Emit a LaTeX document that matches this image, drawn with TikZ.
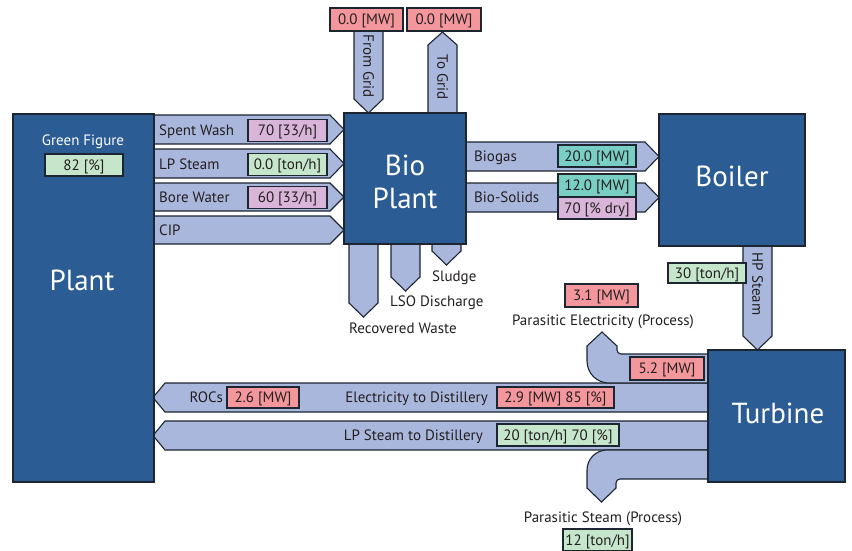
\documentclass[tikz,border=0pt]{standalone}
\usepackage{fontspec}
\setmainfont{PT Sans}
\definecolor{boxblue}{HTML}{2B5C94}
\definecolor{flowc}{HTML}{AAB7DD}
\definecolor{edgec}{HTML}{1C2530}
\definecolor{txtc}{HTML}{231F20}
\definecolor{pinkc}{HTML}{F4979C}
\definecolor{greenc}{HTML}{C6E6CC}
\definecolor{purplec}{HTML}{D9B6D9}
\definecolor{tealc}{HTML}{7ACFC5}
\newcommand\smallfnt{\fontsize{15}{17}\selectfont}
\newcommand\bigfnt{\fontsize{29}{33}\selectfont}
% right-pointing block arrow: x start, x tip, y top, y bottom
\newcommand\flowR[4]{\draw[flow] (#1,#3) -- ({#2-14},#3) -- (#2,{(#3+#4)/2}) -- ({#2-14},#4) -- (#1,#4) -- cycle;}
% left-pointing: x tip, x end, y top, y bottom
\newcommand\flowL[4]{\draw[flow] (#2,#3) -- ({#1+12},#3) -- (#1,{(#3+#4)/2}) -- ({#1+12},#4) -- (#2,#4) -- cycle;}
% down-pointing: x left, x right, y start, y tip
\newcommand\flowD[4]{\draw[flow] (#1,#3) -- (#1,{#4-14}) -- ({(#1+#2)/2},#4) -- (#2,{#4-14}) -- (#2,#3) -- cycle;}
% up-pointing: x left, x right, y tip, y start
\newcommand\flowU[4]{\draw[flow] (#1,#4) -- (#1,{#3+13}) -- ({(#1+#2)/2},#3) -- (#2,{#3+13}) -- (#2,#4) -- cycle;}
\begin{document}
\begin{tikzpicture}[x=1pt,y=-1pt,
  flow/.style={fill=flowc,draw=edgec,line width=1.1pt,line join=miter},
  unit/.style={rectangle,fill=boxblue,draw=edgec,line width=1.2pt,inner sep=0pt},
  bigtxt/.style={text=white,font=\bigfnt,inner sep=0pt},
  val/.style={rectangle,draw=edgec,line width=1.3pt,inner sep=0pt,minimum height=22pt,text=txtc,font=\smallfnt,text height=10.5pt,text depth=0pt},
  pinkv/.style={val,fill=pinkc},
  greenv/.style={val,fill=greenc},
  purplev/.style={val,fill=purplec},
  tealv/.style={val,fill=tealc},
  lbl/.style={text=txtc,font=\smallfnt,inner sep=0pt,text height=10.5pt,text depth=0pt},
]
\useasboundingbox (0,0) rectangle (852,550);

% ---- flows ----
% inputs to Bio Plant
\flowR{154}{344}{115}{144}
\flowR{154}{344}{149}{178}
\flowR{154}{344}{183}{211}
\flowR{154}{344}{216}{244}
% Bio Plant to Boiler
\flowR{466}{659}{142}{171}
\flowR{466}{659}{183}{212}
% grid
\flowD{354}{383}{31}{113}
\flowU{428}{457}{32}{113}
% bio plant outputs
\flowD{349}{378}{244}{317}
\flowD{391}{420}{244}{291}
\flowD{432}{461}{244}{265}
% HP steam
\flowD{743}{772}{246}{350}
% distillery flows
\flowL{153}{708}{383}{412}
\flowL{153}{708}{421}{450}
% parasitic electricity
\draw[flow] (708,354) -- (621,354) .. controls (618.8,354) and (617,352.2) .. (617,350)
  -- (617,346) -- (602,332) -- (587,346) -- (587,361)
  .. controls (587,373.2) and (596.8,383) .. (609,383) -- (708,383) -- cycle;
% parasitic steam
\draw[flow] (708,450) -- (607,450) .. controls (596,450) and (587,459) .. (587,470)
  -- (587,488) -- (601.5,502) -- (616,488) -- (616,483)
  .. controls (616,480.8) and (617.8,479) .. (620,479) -- (708,479) -- cycle;

% ---- units ----
\node[unit,minimum width=141pt,minimum height=368pt] (plant) at (83.5,298) {};
\node[unit,minimum width=122pt,minimum height=131pt] (bio) at (405,178.5) {};
\node[unit,minimum width=146pt,minimum height=132pt] (boiler) at (732,180) {};
\node[unit,minimum width=137pt,minimum height=132pt] (turbine) at (776.5,416) {};
\node[bigtxt] (plantlbl) at (82,280) {Plant};
\node[bigtxt] (biolbl1) at (405,165) {Bio};
\node[bigtxt] (biolbl2) at (405,198) {Plant};
\node[bigtxt] (boilerlbl) at (732,176) {Boiler};
\node[bigtxt] (turbinelbl) at (778,413) {Turbine};

% ---- plant ----
\node[lbl,text=white] (green) at (83,140) {Green Figure};
\node[greenv,minimum width=78pt] (greenval) at (84,165) {82 [\%]};

% ---- input labels ----
\node[lbl,anchor=west] (sw) at (159,130.5) {Spent Wash};
\node[lbl,anchor=west] (lps) at (159,164) {LP Steam};
\node[lbl,anchor=west] (bw) at (159,197.5) {Bore Water};
\node[lbl,anchor=west] (cip) at (159,230.5) {CIP};
\node[purplev,minimum width=79pt] (swv) at (287.5,130.5) {70 [33/h]};
\node[greenv,minimum width=79pt] (lpsv) at (287.5,164.5) {0.0 [ton/h]};
\node[purplev,minimum width=79pt] (bwv) at (287.5,197.5) {60 [33/h]};

% ---- grid ----
\node[pinkv,minimum width=73pt,minimum height=23pt] (fromgridv) at (366.5,19.5) {0.0 [MW]};
\node[pinkv,minimum width=74pt,minimum height=23pt] (togridv) at (444,19.5) {0.0 [MW]};
\node[lbl,rotate=-90] (fromgrid) at (368.5,66) {From Grid};
\node[lbl,rotate=-90] (togrid) at (442.5,77) {To Grid};

% ---- bio plant outputs ----
\node[lbl,anchor=west] (sludge) at (432,276) {Sludge};
\node[lbl,anchor=west] (lso) at (390,301) {LSO Discharge};
\node[lbl,anchor=west] (rw) at (349,328) {Recovered Waste};

% ---- to boiler ----
\node[lbl,anchor=west] (biogas) at (474,156.5) {Biogas};
\node[lbl,anchor=west] (biosol) at (474,197.5) {Bio-Solids};
\node[tealv,minimum width=78pt] (biogasv) at (597,156) {20.0 [MW]};
\node[tealv,minimum width=78pt,minimum height=23pt] (biosolv) at (597,185.5) {12.0 [MW]};
\node[purplev,minimum width=78pt] (biosoldry) at (597,208) {70 [\% dry]};

% ---- HP steam ----
\node[lbl,rotate=-90] (hps) at (757.5,284) {HP Steam};
\node[greenv,minimum width=78pt,minimum height=20pt] (hpsv) at (707,273) {30 [ton/h]};

% ---- parasitic electricity ----
\node[pinkv,minimum width=73pt,minimum height=23pt] (pev) at (601.5,295.5) {3.1 [MW]};
\node[lbl] (pe) at (603,320) {Parasitic Electricity (Process)};
\node[pinkv,minimum width=74pt,minimum height=23pt] (pe2v) at (667,368.5) {5.2 [MW]};

% ---- distillery ----
\node[lbl,anchor=east] (rocs) at (223,397.5) {ROCs};
\node[pinkv,minimum width=72pt,minimum height=21pt] (rocsv) at (263,397.5) {2.6 [MW]};
\node[lbl,anchor=east] (etd) at (488,397.5) {Electricity to Distillery};
\node[pinkv,minimum width=117pt,minimum height=21pt] (etdv) at (555.5,397.5) {2.9 [MW] 85 [\%]};
\node[lbl,anchor=east] (lptd) at (483,435.5) {LP Steam to Distillery};
\node[greenv,minimum width=122pt] (lptdv) at (558,435) {20 [ton/h] 70 [\%]};

% ---- parasitic steam ----
\node[lbl] (ps) at (603,517) {Parasitic Steam (Process)};
\node[greenv,minimum width=69pt] (psv) at (597.5,540) {12 [ton/h]};
\end{tikzpicture}
\end{document}
